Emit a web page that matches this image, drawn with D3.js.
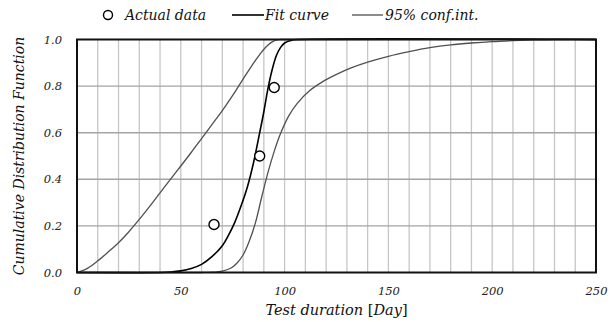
<!DOCTYPE html>
<html>
<head>
<meta charset="utf-8">
<script src="https://cdn.jsdelivr.net/npm/d3@7"></script>
<style>
  body { margin: 0; background: #fff; }
  text { font-family: "DejaVu Serif", serif; font-style: italic; }
</style>
</head>
<body>
<div id="chart"></div>
<script>
// measured points (test duration in days, median rank)
var actualDays = [66, 88, 95];
var actualCdf = [0.206, 0.5, 0.794];

// fitted CDF
var fitDays = [0, 40, 45, 50, 55, 60, 65, 70, 73, 76, 79, 82, 85, 88, 90, 92, 94, 96, 98, 100, 103, 107, 250];
var fitCdf  = [0, 0, 0.002, 0.007, 0.017, 0.035, 0.068, 0.115, 0.16, 0.215, 0.285, 0.365, 0.47, 0.6, 0.69, 0.79, 0.87, 0.93, 0.965, 0.985, 0.996, 1, 1];

// 95% confidence bounds
var upperDays = [0, 5, 10, 15, 20, 25, 30, 35, 40, 45, 50, 55, 60, 65, 70, 75, 80, 84, 88, 91, 94, 97, 100, 250];
var upperCdf  = [0, 0.018, 0.05, 0.088, 0.128, 0.175, 0.228, 0.284, 0.342, 0.4, 0.457, 0.515, 0.575, 0.635, 0.695, 0.76, 0.83, 0.885, 0.935, 0.968, 0.99, 0.999, 1, 1];
var lowerDays = [0, 60, 65, 70, 74, 77, 80, 83, 86, 89, 92, 95, 98, 102, 106, 112, 118, 125, 132, 140, 150, 160, 170, 180, 190, 200, 210, 220, 230, 250];
var lowerCdf  = [0, 0, 0.001, 0.006, 0.018, 0.04, 0.075, 0.135, 0.215, 0.325, 0.43, 0.52, 0.595, 0.672, 0.725, 0.78, 0.817, 0.85, 0.878, 0.903, 0.928, 0.948, 0.965, 0.977, 0.985, 0.991, 0.995, 0.998, 1, 1];

var xTicks = [0, 50, 100, 150, 200, 250];
var yTicks = [0, 0.2, 0.4, 0.6, 0.8, 1.0];

var margin = { top: 39.5, right: 18, bottom: 49.5, left: 77 },
  width = 614 - margin.left - margin.right,
  height = 322 - margin.top - margin.bottom;

var svg = d3.select("#chart").append("svg")
  .attr("width", 614)
  .attr("height", 322);

var g = svg.append("g")
  .attr("transform", "translate(" + margin.left + "," + margin.top + ")");

var x = d3.scaleLinear().domain([0, 250]).range([0, width]);
var y = d3.scaleLinear().domain([0, 1]).range([height, 0]);

// vertical grid every 10 days
g.append("g").selectAll("line")
  .data(d3.range(10, 250, 10))
  .enter().append("line")
  .attr("x1", d => x(d)).attr("x2", d => x(d))
  .attr("y1", 0).attr("y2", height)
  .attr("stroke", "#c6c6c6").attr("stroke-width", 1.3);

// horizontal grid
g.append("g").selectAll("line")
  .data(yTicks.slice(1, -1))
  .enter().append("line")
  .attr("x1", 0).attr("x2", width)
  .attr("y1", d => y(d)).attr("y2", d => y(d))
  .attr("stroke", "#a4a4a4").attr("stroke-width", 1.4);

// axes (labels only)
var xAxis = g.append("g")
  .attr("transform", "translate(0," + height + ")")
  .call(d3.axisBottom(x).tickValues(xTicks).tickSize(0).tickPadding(14).tickFormat(d3.format("d")));
var yAxis = g.append("g")
  .call(d3.axisLeft(y).tickValues(yTicks).tickSize(0).tickPadding(15).tickFormat(d3.format(".1f")));
[xAxis, yAxis].forEach(a => {
  a.select(".domain").remove();
  a.selectAll("text")
    .attr("font-family", "DejaVu Serif")
    .attr("font-style", "italic")
    .attr("font-size", 11.5)
    .attr("fill", "#222");
});

var line = d3.line()
  .x(d => x(d[0]))
  .y(d => y(d[1]))
  .curve(d3.curveCatmullRom.alpha(0.5));

g.append("path")
  .datum(d3.zip(upperDays, upperCdf))
  .attr("fill", "none").attr("stroke", "#505050").attr("stroke-width", 1.3)
  .attr("d", line);
g.append("path")
  .datum(d3.zip(lowerDays, lowerCdf))
  .attr("fill", "none").attr("stroke", "#505050").attr("stroke-width", 1.3)
  .attr("d", line);
g.append("path")
  .datum(d3.zip(fitDays, fitCdf))
  .attr("fill", "none").attr("stroke", "#000").attr("stroke-width", 1.6)
  .attr("d", line);

g.selectAll(".pt")
  .data(d3.zip(actualDays, actualCdf))
  .enter().append("circle")
  .attr("class", "pt")
  .attr("cx", d => x(d[0])).attr("cy", d => y(d[1]))
  .attr("r", 5)
  .attr("fill", "#fff").attr("stroke", "#000").attr("stroke-width", 1.4);

// frame
g.append("rect")
  .attr("width", width).attr("height", height)
  .attr("fill", "none").attr("stroke", "#111").attr("stroke-width", 2);

// axis titles
var xl = svg.append("text")
  .attr("x", margin.left + width / 2)
  .attr("y", 315)
  .attr("text-anchor", "middle")
  .attr("font-size", 14.5)
  .attr("fill", "#111");
xl.append("tspan").text("Test duration ");
xl.append("tspan").attr("font-style", "normal").text("[");
xl.append("tspan").text("Day");
xl.append("tspan").attr("font-style", "normal").text("]");

svg.append("text")
  .attr("transform", "translate(24," + (margin.top + height / 2) + ") rotate(-90)")
  .attr("text-anchor", "middle")
  .attr("font-size", 14)
  .attr("fill", "#111")
  .text("Cumulative Distribution Function");

// legend
var lg = svg.append("g").attr("font-size", 14).attr("fill", "#111");
lg.append("circle").attr("cx", 108).attr("cy", 15).attr("r", 4.5)
  .attr("fill", "#fff").attr("stroke", "#000").attr("stroke-width", 1.4);
lg.append("text").attr("x", 125).attr("y", 20).text("Actual data");
lg.append("line").attr("x1", 232).attr("x2", 264).attr("y1", 15).attr("y2", 15)
  .attr("stroke", "#000").attr("stroke-width", 1.6);
lg.append("text").attr("x", 265).attr("y", 20).text("Fit curve");
lg.append("line").attr("x1", 352).attr("x2", 383).attr("y1", 15).attr("y2", 15)
  .attr("stroke", "#505050").attr("stroke-width", 1.3);
lg.append("text").attr("x", 385).attr("y", 20).text("95% conf.int.");
</script>
</body>
</html>
